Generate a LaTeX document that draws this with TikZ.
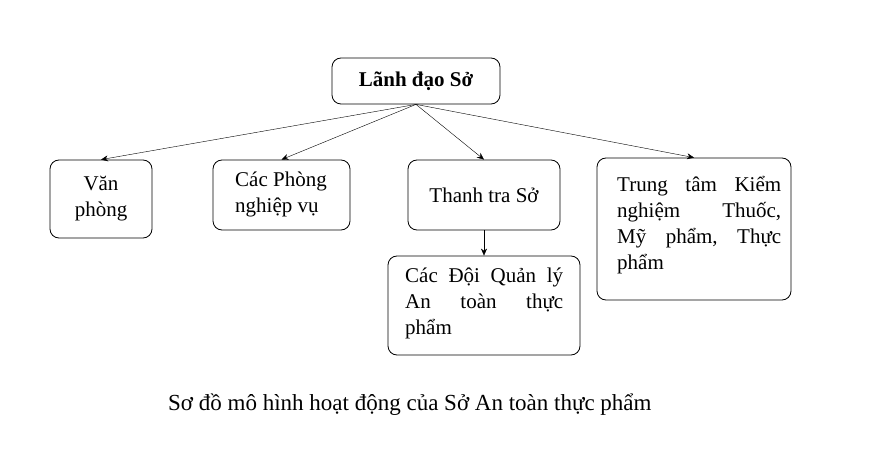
\documentclass[tikz,border=0pt]{standalone}
\usepackage{fontspec}
\setmainfont{Liberation Serif}
\usetikzlibrary{arrows.meta, positioning}

\newcommand{\spread}[2]{\hbox to #1{#2}}

\begin{document}
\begin{tikzpicture}[x=1pt, y=-1pt,
  unit/.style={draw, thick, rounded corners=9pt, inner sep=0pt},
  boxtext/.style={font=\fontsize{21}{26}\selectfont, inner sep=0pt},
  link/.style={-{Stealth[length=7pt, width=6pt]}, thin}
]
  \useasboundingbox (0,0) rectangle (876,457);
  \node[unit, boxtext, minimum width=168pt, minimum height=46pt, font=\fontsize{21}{26}\selectfont\bfseries] (lead) at (416,81) {Lãnh đạo Sở};
  \node[unit, boxtext, minimum width=102pt, minimum height=78pt, align=center] (office) at (101,199) {Văn\\phòng};
  \node[unit, minimum width=137pt, minimum height=70pt] (depts) at (281.5,195) {};
  \node[boxtext, align=left, anchor=north west] (deptstext) at (235,172) {Các Phòng\\nghiệp vụ};
  \node[unit, boxtext, minimum width=152pt, minimum height=70pt] (inspect) at (484,195) {Thanh tra Sở};
  \node[unit, minimum width=194pt, minimum height=142pt] (center) at (694,229) {};
  \node[boxtext, align=left, anchor=north west] (centertext) at (617,176)
    {\spread{164pt}{Trung\hfill tâm\hfill Kiểm}\\
     \spread{164pt}{nghiệm\hfill Thuốc,}\\
     \spread{164pt}{Mỹ\hfill phẩm,\hfill Thực}\\
     phẩm};
  \node[unit, minimum width=192pt, minimum height=99pt] (teams) at (484,305.5) {};
  \node[boxtext, align=left, anchor=north west] (teamstext) at (405,268)
    {\spread{158pt}{Các Đội Quản lý}\\
     \spread{158pt}{An\hfill toàn\hfill thực}\\
     phẩm};

  \draw[link] (lead.south) -- (office.north);
  \draw[link] (lead.south) -- (depts.north);
  \draw[link] (lead.south) -- (inspect.north);
  \draw[link] (lead.south) -- (center.north);
  \draw[link] (inspect) -- (teams);

  \node[font=\fontsize{23}{28}\selectfont, anchor=west, inner sep=0pt] (caption) at (168,405) {Sơ đồ mô hình hoạt động của Sở An toàn thực phẩm};
\end{tikzpicture}
\end{document}
